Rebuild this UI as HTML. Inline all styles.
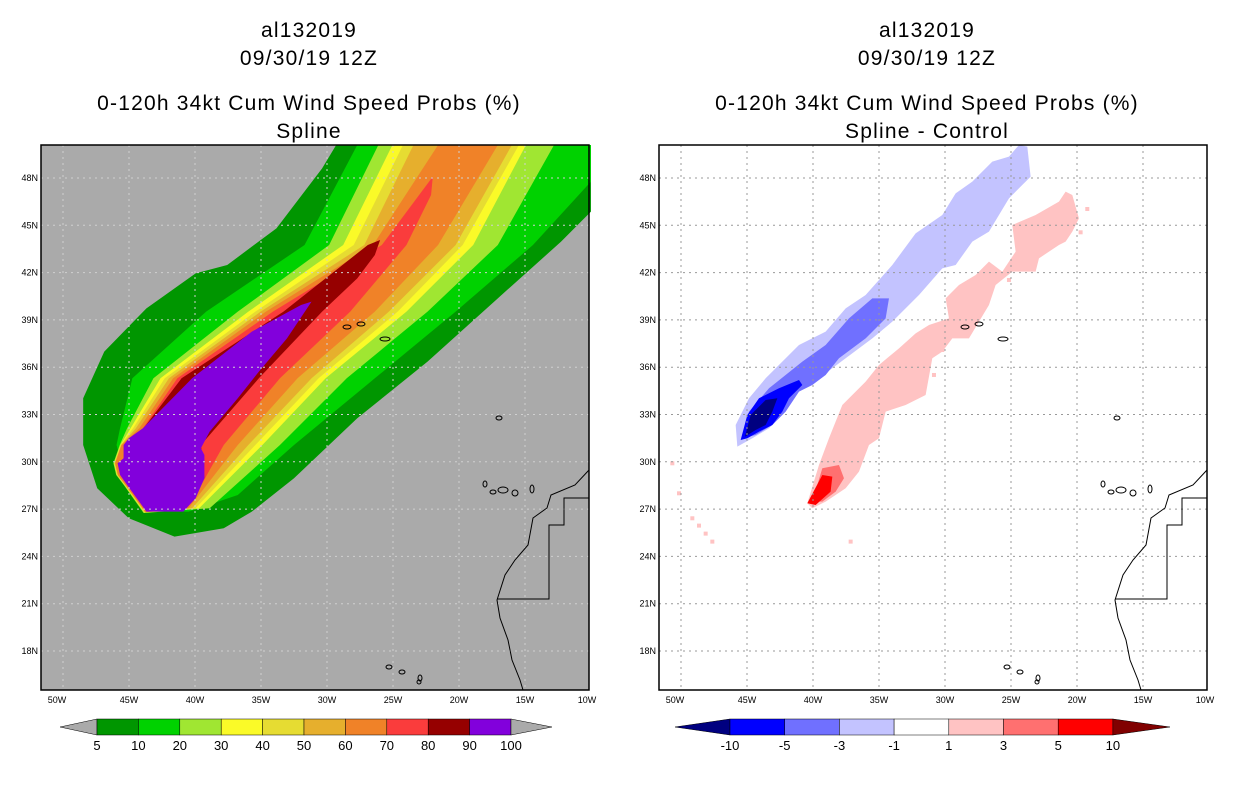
<!DOCTYPE html>
<html><head><meta charset="utf-8"><style>
body{margin:0;background:#fff;width:1236px;height:800px;overflow:hidden}
svg{display:block}
.t{font-family:"Liberation Sans",sans-serif;font-size:21px;letter-spacing:1.2px;text-anchor:middle;fill:#000}
.ax{font-family:"Liberation Sans",sans-serif;font-size:9px;fill:#000}
.cb{font-family:"Liberation Sans",sans-serif;font-size:13px;fill:#000;text-anchor:middle}
</style></head><body>
<svg id="s" width="1236" height="800" xmlns="http://www.w3.org/2000/svg">
<text class="t" x="309" y="37">al132019</text>
<text class="t" x="309" y="65">09/30/19 12Z</text>
<text class="t" x="309" y="110">0-120h 34kt Cum Wind Speed Probs (%)</text>
<text class="t" x="309" y="138">Spline</text>
<text class="t" x="927" y="37">al132019</text>
<text class="t" x="927" y="65">09/30/19 12Z</text>
<text class="t" x="927" y="110">0-120h 34kt Cum Wind Speed Probs (%)</text>
<text class="t" x="927" y="138">Spline - Control</text>
<g id="left"></g>
<g id="right"></g>
<g id="cbl"></g>
<g id="cbr"></g>
</svg>
<script>
const NS="http://www.w3.org/2000/svg";
const lonLabels=["50W","45W","40W","35W","30W","25W","20W","15W","10W"];
const lonX=[57,129,195,261,327,393,459,525,587];
const latLabels=["48N","45N","42N","39N","36N","33N","30N","27N","24N","21N","18N"];
const latVals=[48,45,42,39,36,33,30,27,24,21,18];
const probLevels=["5","10","20","30","40","50","60","70","80","90","100"];
const probColors=["#009600","#00d200","#a0e632","#fafa28","#e6dc32","#e6af2d","#f08228","#fa3c3c","#960000","#8200dc"];
const diffLevels=["-10","-5","-3","-1","1","3","5","10"];
const diffColors=["#0000ff","#7070ff","#c3c3ff","#ffffff","#ffc3c3","#ff7070","#ff0000"];
// contour polygons (zoom-space coords: x*0.3514, y/3 relative to plot origin)
const L5=[[120,900],[120,760],[180,620],[300,490],[440,385],[530,360],[670,250],[800,70],[840,0],[1565,0],[1565,200],[1480,290],[1300,460],[1100,650],[900,820],[720,1000],[600,1100],[520,1150],[380,1175],[250,1120],[160,1030]];
const L10=[[215,900],[225,850],[260,700],[470,500],[750,300],[900,0],[1565,0],[1565,110],[1400,300],[1180,500],[950,700],[720,900],[560,1050],[420,1100],[300,1100],[250,1040]];
const nwY=[850,700,500,300,0];
const seY=[0,300,500,700,900,1090];
const nwX={20:[245,320,560,820,960],30:[255,340,590,860,1000],40:[262,352,610,890,1030],50:[270,364,625,920,1060],60:[280,376,640,945,1130]};
const seX={20:[1460,1300,1100,870,680,480],30:[1380,1230,1040,810,630,450],40:[1360,1200,1015,790,610,440],50:[1340,1180,990,770,590,430],60:[1300,1130,950,730,560,420]};
const rimD={20:8,30:6,40:5,50:4,60:3,70:2,80:1};
const L70=[[290,850],[388,700],[660,500],[970,300],[1115,95],[1110,150],[1040,300],[880,500],[680,700],[520,900],[440,1050]];
const L80=[[292,850],[400,700],[690,500],[930,300],[965,285],[950,330],[900,400],[800,500],[620,700],[455,900],[465,1000]];
const L90=[[290,850],[250,880],[235,900],[235,940],[218,955],[225,990],[245,1020],[300,1100],[405,1100],[440,1060],[465,1000],[465,930],[455,910],[480,860],[560,760],[620,680],[700,580],[770,470],[740,480],[600,560],[430,700]];
const coastL=[[589,470],[575,485],[551,495],[547,508],[533,518],[528,545],[515,560],[505,575],[497,600],[500,618],[508,640],[512,660],[520,680],[523,690]];
const borderL=[[589,498],[564,498],[564,525],[549,525],[549,599],[497,599]];
const islandsL=[[347,327,4,2],[361,324,4,2],[385,339,5,2],[499,418,3,2],[485,484,2,3],[493,492,3,2],[503,490,5,3],[515,493,3,3],[532,489,2,4],[389,667,3,2],[402,672,3,2],[420,678,2,3],[419,682,2,2]];
// right panel polygons (zoom coords scale 1/3)
const dLb=[[235,905],[230,840],[270,760],[320,700],[370,650],[420,600],[500,560],[560,490],[620,450],[700,360],[770,265],[850,210],[890,145],[940,110],[1000,50],[1050,35],[1080,0],[1105,5],[1115,95],[1050,160],[990,260],[940,290],[890,360],[850,370],[780,450],[700,530],[640,580],[560,640],[480,700],[420,740],[380,800],[330,850],[280,880]];
const dMb=[[250,880],[270,800],[330,730],[430,650],[500,600],[570,520],[640,460],[690,460],[680,520],[620,580],[540,640],[500,690],[460,720],[420,740],[380,800],[340,840],[290,870]];
const dB=[[245,885],[265,810],[300,760],[360,730],[420,705],[430,720],[390,760],[370,800],[340,840],[300,860],[265,880]];
const dNb=[[258,875],[275,810],[320,765],[355,760],[340,800],[320,840],[290,855]];
const dLr=[[445,1075],[480,960],[510,880],[550,780],[620,710],[660,660],[720,610],[770,565],[810,540],[870,520],[860,460],[900,420],[950,390],[990,350],[1030,380],[1070,320],[1060,240],[1130,210],[1200,170],[1220,140],[1240,150],[1260,220],[1240,260],[1220,290],[1200,300],[1140,340],[1130,380],[1060,380],[1010,420],[990,480],[930,580],[880,580],[850,620],[820,640],[800,750],[740,780],[680,800],[660,880],[630,900],[600,980],[560,1030],[500,1070],[460,1090]];
const dMr=[[460,1070],[490,970],[540,960],[555,1000],[530,1040],[490,1070]];
const dR=[[445,1075],[490,990],[520,995],[515,1040],[470,1080]];
const dSpecks=[[40,955],[60,1045],[100,1120],[120,1142],[140,1166],[160,1190],[575,1190],[1285,192],[1265,262],[1050,405],[825,690],[850,615]];

function el(tag,attrs,parent,name,inter){const e=document.createElementNS(NS,tag);for(const k in attrs)e.setAttribute(k,attrs[k]);


parent.appendChild(e);return e;}
const pts=a=>a.map(p=>p[0]+","+p[1]).join(" ");
function buildBand(lv){
  const nw=nwY.map((y,i)=>[nwX[lv][i],y]);
  const se=seY.map((y,i)=>[seX[lv][i],y]);
  const d=rimD[lv];
  const rim=[[300-d,1100+d/2],[245-d,1022],[222-d,990],[214-d,955],[232-d,900]];
  return nw.concat(se).concat(rim);
}
function panel(g,ox,isLeft){
  el("rect",{x:ox,y:145,width:548,height:545,fill:isLeft?"#aaaaaa":"#ffffff"},g,"plot-background");
  const cg=el("g",{transform:`translate(${ox},145) scale(${isLeft?0.3514:0.3333},0.3333)`},g,"contour-fills");
  if(isLeft){
    el("polygon",{points:pts(L5),fill:probColors[0]},cg,"contour-5");
    el("polygon",{points:pts(L10),fill:probColors[1]},cg,"contour-10");
    [20,30,40,50,60].forEach((lv,i)=>{el("polygon",{points:pts(buildBand(lv)),fill:probColors[i+2]},cg,"contour-"+lv);});
    el("polygon",{points:pts(L70),fill:probColors[7]},cg,"contour-70");
    el("polygon",{points:pts(L80),fill:probColors[8]},cg,"contour-80");
    el("polygon",{points:pts(L90),fill:probColors[9]},cg,"contour-90");
  } else {
    el("polygon",{points:pts(dLb),fill:diffColors[2]},cg,"diff-minus1");
    el("polygon",{points:pts(dMb),fill:diffColors[1]},cg,"diff-minus3");
    el("polygon",{points:pts(dB),fill:diffColors[0]},cg,"diff-minus5");
    el("polygon",{points:pts(dNb),fill:"#000080"},cg,"diff-minus10");
    el("polygon",{points:pts(dLr),fill:diffColors[4]},cg,"diff-plus1");
    el("polygon",{points:pts(dMr),fill:diffColors[5]},cg,"diff-plus3");
    el("polygon",{points:pts(dR),fill:diffColors[6]},cg,"diff-plus5");
    dSpecks.forEach(p=>{el("rect",{x:p[0]-6,y:p[1]-6,width:12,height:12,fill:diffColors[4]},cg,"diff-speck");});
  }
  const sh=ox-41;
  const gridC=isLeft?"#d0d0d0":"#999";
  lonX.slice(0,8).forEach((x,i)=>{if(i==0)x=63;el("line",{x1:x+sh,y1:145,x2:x+sh,y2:690,stroke:gridC,"stroke-width":1,"stroke-dasharray":"2,4"},g,"grid-lon");});
  latVals.forEach(v=>{const y=178+(48-v)/3*47.3;el("line",{x1:ox,y1:y,x2:ox+548,y2:y,stroke:gridC,"stroke-width":1,"stroke-dasharray":"2,4"},g,"grid-lat");});
  el("polyline",{points:pts(coastL.map(p=>[p[0]+sh,p[1]])),fill:"none",stroke:"#000","stroke-width":1},g,"coastline");
  el("polyline",{points:pts(borderL.map(p=>[p[0]+sh,p[1]])),fill:"none",stroke:"#000","stroke-width":1},g,"border");
  islandsL.forEach(p=>{el("ellipse",{cx:p[0]+sh,cy:p[1],rx:p[2],ry:p[3],fill:"none",stroke:"#000","stroke-width":1},g,"island");});
  el("rect",{x:ox,y:145,width:548,height:545,fill:"none",stroke:"#000","stroke-width":1.5},g,"plot-frame");
  lonLabels.forEach((t,i)=>{const tx=el("text",{x:lonX[i]+sh,y:703,"text-anchor":"middle",class:"ax"},g,"x-tick-label");tx.textContent=t;});
  latLabels.forEach((t,i)=>{const y=178+(48-latVals[i])/3*47.3;const tx=el("text",{x:ox-3,y:y+3,"text-anchor":"end",class:"ax"},g,"y-tick-label");tx.textContent=t;});
}
panel(document.getElementById("left"),41,true);
panel(document.getElementById("right"),659,false);
// colorbars
(function(){
  const g=document.getElementById("cbl");const x0=97,w=41.4,y=719,h=16;
  el("polygon",{points:`60,${y+h/2} ${x0},${y} ${x0},${y+h}`,fill:"#aaaaaa",stroke:"#000","stroke-width":0.5},g,"colorbar-low-arrow");
  probColors.forEach((c,i)=>{el("rect",{x:x0+i*w,y:y,width:w,height:h,fill:c,stroke:"#000","stroke-width":0.5},g,"colorbar-box");});
  const xe=x0+probColors.length*w;
  el("polygon",{points:`${xe},${y} ${xe},${y+h} 552,${y+h/2}`,fill:"#aaaaaa",stroke:"#000","stroke-width":0.5},g,"colorbar-high-arrow");
  probLevels.forEach((t,i)=>{const tx=el("text",{x:x0+i*w,y:750,class:"cb"},g,"colorbar-label");tx.textContent=t;});
  const g2=document.getElementById("cbr");const a=730,w2=54.7;
  el("polygon",{points:`675,${y+h/2} ${a},${y} ${a},${y+h}`,fill:"#000080",stroke:"#000","stroke-width":0.5},g2,"colorbar-low-arrow");
  diffColors.forEach((c,i)=>{el("rect",{x:a+i*w2,y:y,width:w2,height:h,fill:c,stroke:"#000","stroke-width":0.5},g2,"colorbar-box");});
  const e2=a+diffColors.length*w2;
  el("polygon",{points:`${e2},${y} ${e2},${y+h} 1170,${y+h/2}`,fill:"#800000",stroke:"#000","stroke-width":0.5},g2,"colorbar-high-arrow");
  diffLevels.forEach((t,i)=>{const tx=el("text",{x:a+i*w2,y:750,class:"cb"},g2,"colorbar-label");tx.textContent=t;});
})();
</script>
</body></html>
